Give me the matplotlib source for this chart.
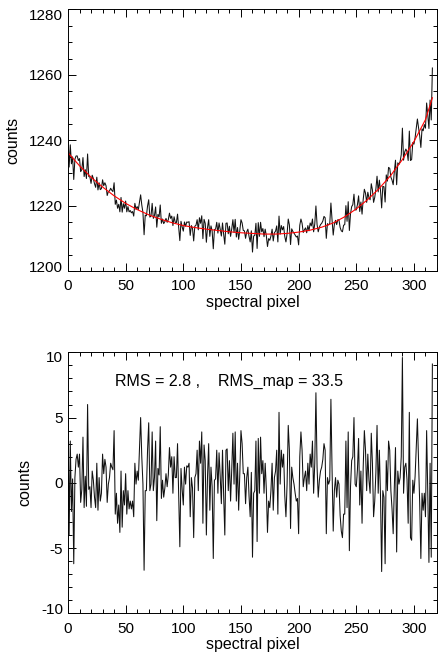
import numpy as np
import matplotlib
matplotlib.use("Agg")
import matplotlib.pyplot as plt
from matplotlib.ticker import MultipleLocator
from matplotlib.transforms import ScaledTranslation

plt.rcParams['font.family'] = ['Liberation Sans', 'DejaVu Sans']
plt.rcParams['font.size'] = 11
plt.rcParams['axes.unicode_minus'] = False

counts = [
    1241.7, 1231.8, 1238.6, 1232.8, 1234.9, 1228.0, 1234.2, 1235.2, 1235.2, 1233.8,
    1234.4, 1230.4, 1231.0, 1234.7, 1228.9, 1231.0, 1228.3, 1235.8, 1228.9, 1228.8,
    1226.8, 1229.3, 1228.3, 1226.7, 1225.6, 1228.7, 1224.8, 1227.0, 1224.9, 1225.2,
    1227.9, 1226.1, 1227.0, 1226.1, 1223.1, 1224.3, 1224.5, 1225.3, 1224.7, 1224.3,
    1227.0, 1220.4, 1221.7, 1219.2, 1220.4, 1218.1, 1222.5, 1218.0, 1220.6, 1219.2,
    1221.4, 1218.1, 1219.7, 1218.1, 1218.5, 1217.8, 1218.2, 1216.8, 1220.7, 1218.9,
    1219.7, 1218.8, 1221.0, 1223.3, 1220.2, 1217.9, 1211.1, 1217.1, 1216.9, 1219.9,
    1221.8, 1216.5, 1216.8, 1220.7, 1216.1, 1217.0, 1219.6, 1213.4, 1217.3, 1216.6,
    1220.2, 1214.6, 1215.9, 1214.5, 1215.1, 1216.1, 1214.9, 1215.7, 1217.7, 1216.1,
    1216.8, 1213.9, 1216.6, 1214.9, 1214.8, 1217.4, 1213.3, 1209.3, 1215.2, 1213.5,
    1212.2, 1215.0, 1213.7, 1215.0, 1214.9, 1215.1, 1210.9, 1213.9, 1213.0, 1209.2,
    1213.7, 1214.0, 1215.7, 1212.6, 1216.3, 1214.6, 1216.9, 1209.9, 1215.8, 1214.6,
    1208.8, 1213.3, 1215.7, 1210.6, 1213.8, 1212.3, 1206.8, 1212.7, 1212.8, 1214.9,
    1211.6, 1214.7, 1212.8, 1210.7, 1214.7, 1211.2, 1208.2, 1214.6, 1214.7, 1211.4,
    1213.7, 1210.6, 1212.9, 1215.7, 1211.8, 1215.8, 1210.4, 1213.3, 1209.7, 1212.4,
    1215.7, 1214.7, 1212.4, 1212.3, 1210.0, 1212.0, 1212.8, 1210.6, 1208.9, 1212.3,
    1205.8, 1210.7, 1210.9, 1214.6, 1206.9, 1214.8, 1210.6, 1214.9, 1212.0, 1213.0,
    1210.5, 1212.8, 1210.8, 1207.5, 1209.9, 1209.4, 1210.7, 1212.8, 1209.2, 1211.7,
    1212.2, 1213.8, 1208.9, 1216.8, 1211.3, 1213.9, 1212.6, 1213.6, 1210.5, 1208.9,
    1211.4, 1215.9, 1214.1, 1208.1, 1212.9, 1212.1, 1211.6, 1211.0, 1210.4, 1210.7,
    1208.0, 1214.0, 1215.9, 1214.6, 1211.8, 1212.6, 1213.2, 1211.7, 1213.9, 1212.3,
    1214.7, 1213.8, 1215.9, 1212.0, 1214.4, 1219.9, 1214.2, 1212.0, 1213.4, 1214.2,
    1214.6, 1215.3, 1216.7, 1216.3, 1210.0, 1214.5, 1214.1, 1214.5, 1220.8, 1215.6,
    1211.0, 1214.3, 1215.5, 1214.2, 1215.7, 1215.6, 1213.3, 1212.3, 1212.0, 1214.0,
    1214.2, 1220.0, 1215.2, 1221.2, 1212.4, 1217.5, 1219.7, 1220.3, 1223.5, 1218.7,
    1218.7, 1220.3, 1223.0, 1218.2, 1221.1, 1217.4, 1221.9, 1225.0, 1223.8, 1221.0,
    1224.1, 1222.4, 1221.8, 1226.7, 1224.8, 1221.0, 1222.5, 1225.1, 1229.0, 1224.2,
    1227.8, 1224.7, 1219.3, 1225.9, 1225.8, 1221.1, 1229.4, 1227.5, 1231.7, 1231.4,
    1228.7, 1227.8, 1226.4, 1230.4, 1233.9, 1226.4, 1233.1, 1232.6, 1233.5, 1235.6,
    1243.7, 1233.9, 1236.4, 1237.3, 1236.5, 1233.8, 1242.8, 1233.8, 1234.1, 1239.3,
    1238.8, 1240.8, 1243.6, 1246.5, 1243.8, 1241.4, 1237.8, 1243.5, 1242.9, 1244.8,
    1243.7, 1251.4, 1247.7, 1243.6, 1252.3, 1246.2, 1262.1,
]

# --- smooth fit (red curve), read every 10 pixels ---
fit_px = [0, 10, 20, 30, 40, 50, 60, 70, 80, 90, 100, 110, 120, 130, 140, 150, 160,
          170, 180, 190, 200, 210, 220, 230, 240, 250, 260, 270, 280, 290, 300, 310, 316]
fit_counts = [1236.2, 1232.2, 1228.7, 1225.7, 1223.0, 1220.7, 1218.8, 1217.2, 1215.9,
              1214.8, 1213.9, 1213.3, 1212.8, 1212.4, 1212.0, 1211.7, 1211.5, 1211.3,
              1211.3, 1211.5, 1211.9, 1212.5, 1213.4, 1214.7, 1216.6, 1219.0, 1221.9,
              1225.3, 1229.3, 1234.1, 1239.6, 1246.3, 1253.0]

# --- residuals (bottom panel) ---
resid = [
    5.5, -4.0, 3.2, -2.2, 0.3, -6.2, 0.4, 1.8, 2.2, 1.2,
    2.2, -1.5, -0.5, 3.5, -1.9, 0.5, -1.8, 6.0, -0.5, -0.3,
    -1.9, 0.9, 0.2, -1.1, -1.9, 1.5, -2.1, 0.4, -1.4, -0.8,
    2.2, 0.7, 1.8, 1.2, -1.5, -0.1, 0.4, 1.5, 1.2, 1.0,
    4.0, -2.4, -0.8, -3.1, -1.7, -3.8, 0.9, -3.4, -0.6, -1.7,
    0.7, -2.4, -0.6, -2.0, -1.4, -2.0, -1.4, -2.6, 1.5, -0.1,
    0.9, 0.2, 2.5, 5.0, 2.0, -0.1, -6.7, -0.6, -0.6, 2.5,
    4.6, -0.6, -0.1, 3.9, -0.6, 0.4, 3.2, -2.9, 1.1, 0.6,
    4.3, -1.2, 0.2, -1.1, -0.4, 0.7, -0.3, 0.6, 2.7, 1.2,
    2.0, -0.8, 2.0, 0.4, 0.4, 3.0, -1.0, -4.9, 1.1, -0.5,
    -1.7, 1.2, -0.1, 1.3, 1.2, 1.5, -2.6, 0.4, -0.4, -4.2,
    0.4, 0.7, 2.5, -0.6, 3.2, 1.5, 3.9, -3.1, 2.9, 1.7,
    -4.0, 0.5, 3.0, -2.1, 1.2, -0.3, -5.8, 0.2, 0.3, 2.5,
    -0.8, 2.3, 0.5, -1.6, 2.5, -1.0, -4.0, 2.5, 2.6, -0.6,
    1.7, -1.4, 1.0, 3.8, -0.1, 3.9, -1.4, 1.5, -2.1, 0.7,
    4.0, 3.0, 0.7, 0.7, -1.6, 0.4, 1.2, -1.0, -2.6, 0.8,
    -5.7, -0.8, -0.6, 3.2, -4.5, 3.4, -0.8, 3.5, 0.7, 1.7,
    -0.8, 1.5, -0.5, -3.8, -1.4, -1.9, -0.6, 1.5, -2.1, 0.4,
    0.9, 2.5, -2.4, 5.4, -0.1, 2.5, 1.2, 2.2, -1.0, -2.6,
    -0.1, 4.4, 2.5, -3.5, 1.2, 0.4, -0.1, -0.8, -1.4, -1.2,
    -3.9, 2.0, 3.9, 2.5, -0.3, 0.4, 0.9, -0.6, 1.5, -0.1,
    2.2, 1.2, 3.2, -0.8, 1.5, 6.9, 1.2, -1.1, 0.2, 0.9,
    1.2, 1.8, 3.0, 2.5, -3.9, 0.4, -0.1, 0.2, 6.4, 1.0,
    -3.7, -0.6, 0.4, -1.1, 0.2, -0.1, -2.5, -3.7, -4.2, -2.4,
    -2.4, 3.2, -1.9, 3.9, -5.2, -0.3, 1.7, 2.0, 5.0, -0.1,
    -0.3, 1.0, 3.4, -1.7, 0.9, -3.1, 1.2, 4.0, 2.5, -0.6,
    2.2, 0.2, -0.8, 3.8, 1.5, -2.6, -1.4, 0.8, 4.4, -0.8,
    2.5, -1.0, -6.8, -0.6, -1.1, -6.2, 1.7, -0.6, 3.2, 2.5,
    -0.6, -2.0, -3.9, -0.3, 2.7, -5.3, 0.9, -0.1, 0.4, 2.0,
    9.6, -0.8, 1.2, 1.5, 0.2, -3.1, 5.4, -4.2, -4.4, 0.2,
    -0.8, 0.5, 2.7, 4.9, 1.5, -1.6, -5.8, -0.8, -2.1, -0.8,
    -2.6, 4.0, -0.8, -6.1, 1.5, -5.7, 9.1,
]

rms_text = "RMS = 2.8 ,    RMS_map = 33.5"

pixel = np.arange(len(counts))

fig = plt.figure(figsize=(4.42, 6.54), dpi=100)
ax1 = fig.add_axes([0.1538, 0.5856, 0.8349, 0.3999])
ax2 = fig.add_axes([0.1538, 0.0622, 0.8349, 0.3991])


def style(ax):
    ax.tick_params(which='both', direction='in', top=True, right=True, width=0.7)
    ax.tick_params(which='major', length=6)
    ax.tick_params(which='minor', length=3)
    ax.tick_params(axis='x', pad=6)
    ax.tick_params(axis='y', pad=3.5)
    ax.xaxis.set_major_locator(MultipleLocator(50))
    ax.xaxis.set_minor_locator(MultipleLocator(10))
    for s in ax.spines.values():
        s.set_linewidth(0.7)
    ax.set_xlim(0, 320)
    ax.set_xlabel("spectral pixel", fontsize=11.5, labelpad=1)
    ax.set_ylabel("counts", fontsize=11.5, labelpad=6)


def nudge_end_labels(ax):
    # IDL style: first/last y labels pulled inside the axis range
    fig.canvas.draw()
    labels = ax.yaxis.get_majorticklabels()
    lo, hi = ax.get_ylim()
    for tick, lab in zip(ax.yaxis.get_major_ticks(), labels):
        loc = tick.get_loc()
        if np.isclose(loc, hi):
            lab.set_transform(lab.get_transform() + ScaledTranslation(0, -3.3 / 72, fig.dpi_scale_trans))
        elif np.isclose(loc, lo):
            lab.set_transform(lab.get_transform() + ScaledTranslation(0, 3.6 / 72, fig.dpi_scale_trans))


# --- top: counts with fit ---
ax1.plot(pixel, counts, color='#111111', lw=0.75)
ax1.plot(fit_px, fit_counts, color='red', lw=0.8)
ax1.set_ylim(1200, 1280)
ax1.yaxis.set_major_locator(MultipleLocator(20))
ax1.yaxis.set_minor_locator(MultipleLocator(5))
style(ax1)

# --- bottom: residuals ---
ax2.plot(pixel, resid, color='#111111', lw=0.75)
ax2.set_ylim(-10, 10)
ax2.yaxis.set_major_locator(MultipleLocator(5))
ax2.yaxis.set_minor_locator(MultipleLocator(1))
ax2.text(40.7, 7.8, rms_text, fontsize=11.5, ha='left', va='center')
style(ax2)

nudge_end_labels(ax1)
nudge_end_labels(ax2)

fig.savefig("out.png", dpi=100)
